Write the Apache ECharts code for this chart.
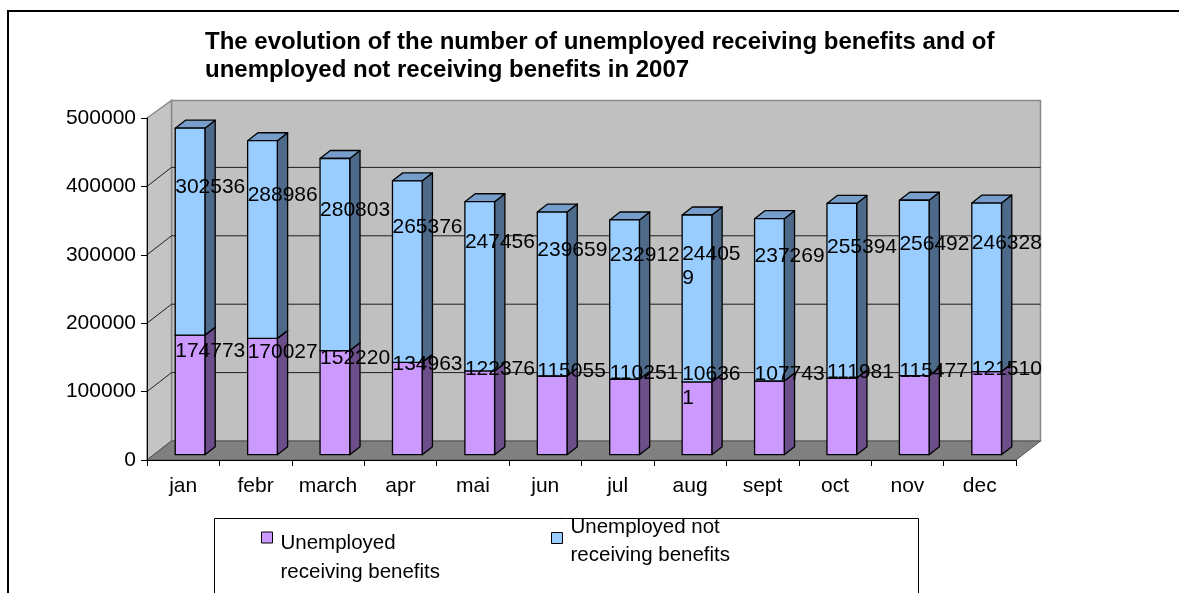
<!DOCTYPE html>
<html>
<head>
<meta charset="utf-8">
<script src="https://cdn.jsdelivr.net/npm/echarts@6/dist/echarts.min.js"></script>
<style>
  html, body { margin: 0; padding: 0; background: #fff; }
  #chart { width: 1179px; height: 593px; }
</style>
</head>
<body>
<div id="chart"></div>
<script>
// Monthly unemployment figures, 2007
const months = ['jan', 'febr', 'march', 'apr', 'mai', 'jun', 'jul', 'aug', 'sept', 'oct', 'nov', 'dec'];
const receiving = [174773, 170027, 152220, 134963, 122376, 115055, 110251, 106361, 107743, 111981, 115477, 121510];
const notReceiving = [302536, 288986, 280803, 265376, 247456, 239659, 232912, 244059, 237269, 255394, 256492, 246328];
const yTicks = [0, 100000, 200000, 300000, 400000, 500000];
const seriesNames = ['Unemployed receiving benefits', 'Unemployed not receiving benefits'];
const titleText = 'The evolution of the number of unemployed receiving benefits and of\nunemployed not receiving benefits in 2007';

// Oblique projection of the depth axis (pixels from front plane to back wall)
const DEPTH_X = 24.5, DEPTH_Y = -19;
// Bar placement inside the depth and width of a category band
const BAR_FRONT = 0.28, BAR_DEPTH = 0.42, BAR_WIDTH = 0.41;
// Value labels sit above the segment middle
const LABEL_RISE = -44, LABEL_LINE = 24;
// Month whose labels wrap onto two lines
const wrappedLabelMonths = ['aug'];

const FONT = "'Liberation Sans', Arial, sans-serif";
const COLORS = [
  { front: '#CC99FF', side: '#6B4E8A', top: '#A57CD0' },
  { front: '#99CCFF', side: '#4D6A8A', top: '#779ECA' }
];

const chart = echarts.init(document.getElementById('chart'), null, { renderer: 'canvas' });

function renderWalls(params, api) {
  const cs = params.coordSys;
  const x0 = cs.x, x1 = cs.x + cs.width;
  const yOf = v => api.coord([0, v])[1];
  const yTop = yOf(yTicks[yTicks.length - 1]);
  const yBot = yOf(yTicks[0]);
  const dx = DEPTH_X, dy = DEPTH_Y;
  const children = [];
  // back wall
  children.push({
    type: 'polygon',
    shape: { points: [[x0 + dx, yTop + dy + 1.5], [x1 + dx, yTop + dy + 1.5], [x1 + dx, yBot + dy], [x0 + dx, yBot + dy]] },
    style: { fill: '#C0C0C0', stroke: '#8A8A8A', lineWidth: 1.5 }
  });
  // side wall
  children.push({
    type: 'polygon',
    shape: { points: [[x0, yTop], [x0 + dx, yTop + dy + 1.5], [x0 + dx, yBot + dy], [x0, yBot]] },
    style: { fill: '#C4C4C4', stroke: '#8A8A8A', lineWidth: 1.5 }
  });
  // floor
  children.push({
    type: 'polygon',
    shape: { points: [[x0, yBot], [x1, yBot], [x1 + dx, yBot + dy], [x0 + dx, yBot + dy]] },
    style: { fill: '#808080', stroke: '#505050', lineWidth: 1 }
  });
  // gridlines: diagonal on the side wall, horizontal on the back wall
  yTicks.slice(1, -1).forEach(v => {
    const y = yOf(v);
    children.push({
      type: 'polyline',
      shape: { points: [[x0, y], [x0 + dx, y + dy], [x1 + dx, y + dy]] },
      style: { stroke: '#1E1E1E', lineWidth: 1, fill: null }
    });
  });
  return { type: 'group', children };
}

function barGeometry(api, i, lo, hi) {
  const catW = api.size([1, 0])[0];
  const cx = api.coord([i, 0])[0];
  const half = catW * BAR_WIDTH / 2;
  const ox = DEPTH_X * BAR_FRONT, oy = DEPTH_Y * BAR_FRONT;
  return {
    xl: cx + ox - half,
    xr: cx + ox + half,
    yl: api.coord([i, lo])[1] + oy,
    yh: api.coord([i, hi])[1] + oy,
    oy
  };
}

function makeBarRenderer(s) {
  return function (params, api) {
    const i = api.value(0), lo = api.value(1), hi = api.value(2);
    const g = barGeometry(api, i, lo, hi);
    const bx = DEPTH_X * BAR_DEPTH, by = DEPTH_Y * BAR_DEPTH;
    const c = COLORS[s];
    const st = fill => ({ fill, stroke: '#000', lineWidth: 1.3, lineJoin: 'round' });
    const z2 = s * 3 + 1;
    return {
      type: 'group',
      children: [
        { type: 'polygon', z2, shape: { points: [[g.xr, g.yh], [g.xr + bx, g.yh + by], [g.xr + bx, g.yl + by], [g.xr, g.yl]] }, style: st(c.side) },
        { type: 'polygon', z2, shape: { points: [[g.xl, g.yh], [g.xl + bx, g.yh + by], [g.xr + bx, g.yh + by], [g.xr, g.yh]] }, style: st(c.top) },
        { type: 'rect', z2, shape: { x: g.xl, y: g.yh, width: g.xr - g.xl, height: g.yl - g.yh }, style: st(c.front) }
      ]
    };
  };
}

function renderLabels(params, api) {
  const i = api.value(0), lo = api.value(1), hi = api.value(2), val = api.value(3);
  const g = barGeometry(api, i, lo, hi);
  const yMid = api.coord([i, (lo + hi) / 2])[1] + g.oy + LABEL_RISE;
  const style = {
    text: String(val),
    fill: '#000',
    font: '21px ' + FONT,
    align: 'left',
    verticalAlign: 'top',
    lineHeight: LABEL_LINE
  };
  if (wrappedLabelMonths.indexOf(months[i]) >= 0) {
    style.width = 62;
    style.overflow = 'breakAll';
  }
  return { type: 'text', z2: 20, x: g.xl, y: yMid - LABEL_LINE / 2, style };
}

const lowData = months.map((m, i) => [i, 0, receiving[i]]);
const highData = months.map((m, i) => [i, receiving[i], receiving[i] + notReceiving[i]]);
const labelData = months.map((m, i) => [i, 0, receiving[i], receiving[i]])
  .concat(months.map((m, i) => [i, receiving[i], receiving[i] + notReceiving[i], notReceiving[i]]));

// Legend entries break before "receiving"; a spacer row sets each entry's text offset
function legendText(name) {
  const idx = seriesNames.indexOf(name);
  const lines = name.replace(/ (receiving)/, '\n$1').split('\n');
  return '{gap' + idx + '| }\n' + lines.map(l => '{t|' + l + '}').join('\n');
}

const legendTextStyle = {
  fontFamily: FONT, fontSize: 20.5, color: '#000',
  rich: {
    gap0: { height: 41, lineHeight: 41, fontSize: 2 },
    gap1: { height: 7, lineHeight: 7, fontSize: 2 },
    t: { fontFamily: FONT, fontSize: 20.5, lineHeight: 28.5, color: '#000', padding: [0, 0, 0, 3] }
  }
};

const legendBase = {
  orient: 'horizontal',
  padding: 0,
  icon: 'rect',
  itemWidth: 11,
  itemHeight: 11,
  itemStyle: { borderColor: '#000', borderWidth: 1 },
  formatter: legendText,
  selectedMode: false,
  textStyle: legendTextStyle
};

const option = {
  animation: false,
  backgroundColor: '#fff',
  title: {
    text: titleText,
    left: 205,
    top: 28,
    padding: 0,
    textStyle: { fontFamily: FONT, fontSize: 24, fontWeight: 'bold', color: '#000', lineHeight: 28.5 }
  },
  legend: [
    Object.assign({}, legendBase, { data: [seriesNames[0]], left: 261, top: 488.5 }),
    Object.assign({}, legendBase, { data: [seriesNames[1]], left: 551, top: 506 })
  ],
  graphic: [
    { type: 'rect', z: 0, silent: true, shape: { x: 8, y: 11, width: 1300, height: 700 }, style: { fill: null, stroke: '#000', lineWidth: 2 } },
    { type: 'rect', z: 0, silent: true, shape: { x: 214.5, y: 518.5, width: 704, height: 120 }, style: { fill: null, stroke: '#000', lineWidth: 1 } }
  ],
  grid: { left: 147, top: 118, width: 869, height: 342, containLabel: false },
  xAxis: {
    type: 'category',
    data: months,
    z: 3,
    boundaryGap: true,
    axisLine: { show: true, lineStyle: { color: '#000', width: 1 } },
    axisTick: { show: true, length: 6, interval: 0, lineStyle: { color: '#000' } },
    axisLabel: { interval: 0, margin: 16, color: '#000', fontFamily: FONT, fontSize: 21 },
    splitLine: { show: false }
  },
  yAxis: {
    type: 'value',
    min: 0,
    max: 500000,
    interval: 100000,
    z: 3,
    axisLine: { show: true, lineStyle: { color: '#000', width: 1 } },
    axisTick: { show: true, length: 6, lineStyle: { color: '#000' } },
    axisLabel: { margin: 11, color: '#000', fontFamily: FONT, fontSize: 21, formatter: v => String(v) },
    splitLine: { show: false }
  },
  series: [
    { type: 'custom', name: 'walls', z: 1, silent: true, renderItem: renderWalls, data: [[0]] },
    {
      type: 'custom', name: seriesNames[0], z: 2, renderItem: makeBarRenderer(0),
      itemStyle: { color: COLORS[0].front }, encode: { x: 0, y: [1, 2] }, data: lowData
    },
    {
      type: 'custom', name: seriesNames[1], z: 2, renderItem: makeBarRenderer(1),
      itemStyle: { color: COLORS[1].front }, encode: { x: 0, y: [1, 2] }, data: highData
    },
    {
      type: 'custom', name: 'values', z: 2, silent: true, renderItem: renderLabels,
      encode: { x: 0, y: [1, 2] }, data: labelData
    }
  ]
};

chart.setOption(option);
</script>
</body>
</html>
